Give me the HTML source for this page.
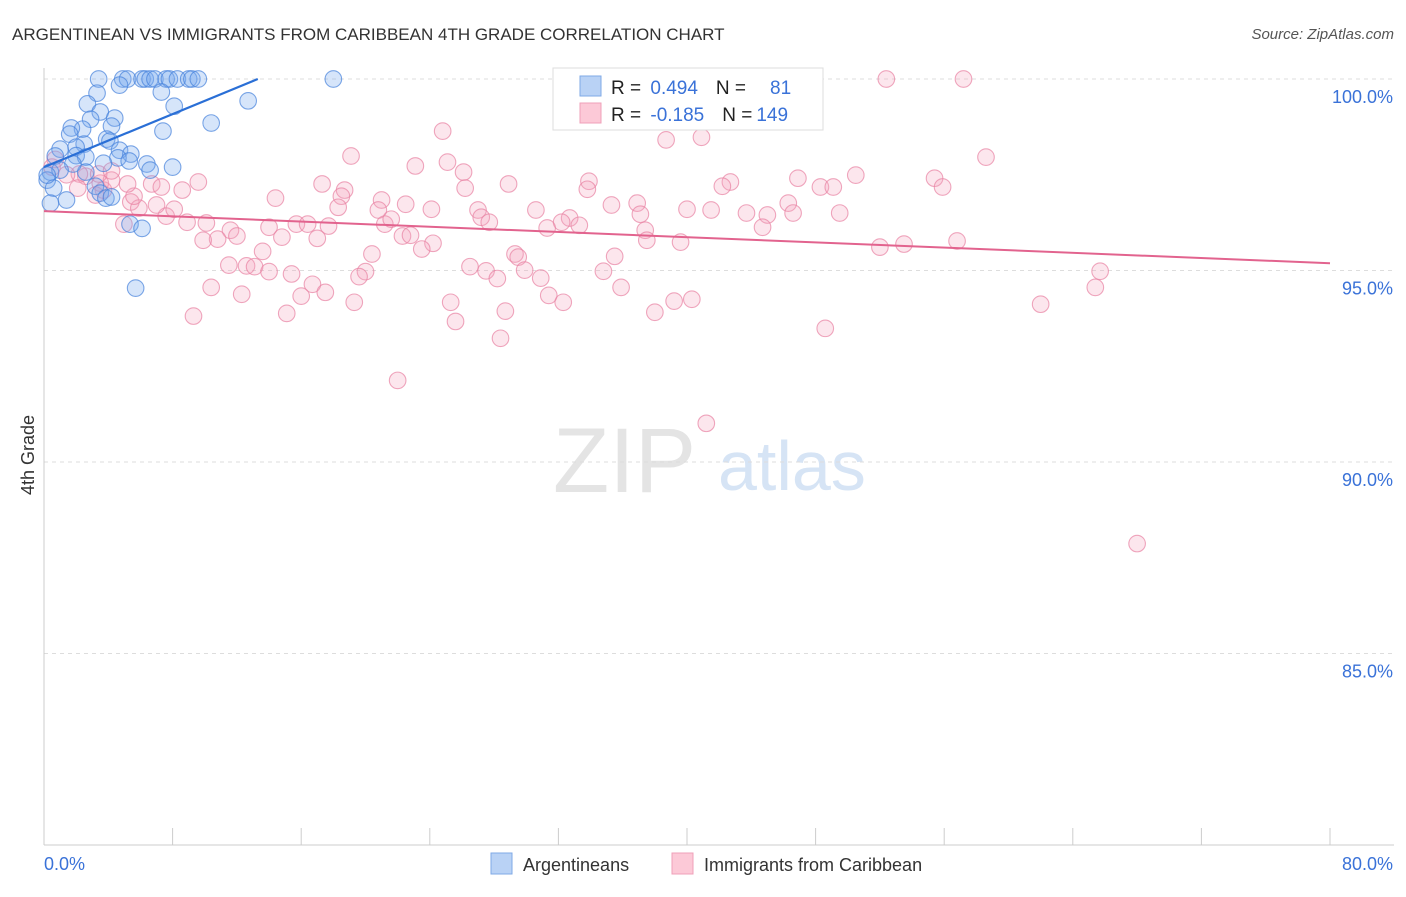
<!DOCTYPE html>
<html><head><meta charset="utf-8"><style>
body{margin:0;background:#fff;font-family:"Liberation Sans",sans-serif;}
svg text{font-family:"Liberation Sans",sans-serif;}
</style></head><body>
<svg id="c" width="1406" height="892" xmlns="http://www.w3.org/2000/svg">
<text x="12" y="40" font-size="17" fill="#333">ARGENTINEAN VS IMMIGRANTS FROM CARIBBEAN 4TH GRADE CORRELATION CHART</text>
<text x="1394" y="39" font-size="15" fill="#555" text-anchor="end" font-style="italic">Source: ZipAtlas.com</text>
<g>
<text x="553" y="492" font-size="92" fill="#e4e4e4" font-family="Liberation Serif">ZIP</text>
<text x="718" y="490" font-size="70" fill="#d6e4f5">atlas</text>
</g>
<g id="grid"></g>
<g id="axes"></g>
<g id="pink"></g>
<g id="blue"></g>
<g id="lines"></g>
<text x="34" y="455" font-size="18" fill="#333" text-anchor="middle" transform="rotate(-90 34 455)">4th Grade</text>
<g>
<rect x="553" y="68" width="270" height="62" fill="#fff" stroke="#ddd"/>
<rect x="580" y="76" width="21" height="20" fill="#b9d2f5" stroke="#7fa9e6"/>
<rect x="580" y="103" width="21" height="20" fill="#fcc9d7" stroke="#efa0b8"/>
<text x="611" y="94" font-size="19" fill="#222">R = <tspan fill="#3a72d8" dx="4">0.494</tspan><tspan dx="18" fill="#222">N =</tspan><tspan dx="24" fill="#3a72d8">81</tspan></text>
<text x="611" y="121" font-size="19" fill="#222">R = <tspan fill="#3a72d8" dx="4">-0.185</tspan><tspan dx="18" fill="#222">N =</tspan><tspan dx="4" fill="#3a72d8">149</tspan></text>
</g>
<g>
<rect x="491" y="853" width="21" height="21" fill="#b9d2f5" stroke="#7fa9e6"/>
<text x="523" y="871" font-size="18" fill="#333">Argentineans</text>
<rect x="672" y="853" width="21" height="21" fill="#fcc9d7" stroke="#efa0b8"/>
<text x="704" y="871" font-size="18" fill="#333">Immigrants from Caribbean</text>
</g>
</svg>
<script>
const yTicks=[100,95,90,85];
const yTickLabels=["100.0%","95.0%","90.0%","85.0%"];
const xTickVals=[0,8,16,24,32,40,48,56,64,72,80];
const xEndLabels=["0.0%","80.0%"];
const blueX=[3.4,4.9,5.2,6.1,6.3,6.6,6.9,7.6,7.8,8.3,9.0,9.2,9.6,18.0,4.7,3.3,7.3,12.7,8.1,2.7,3.5,2.9,4.4,10.4,4.2,7.4,2.4,1.7,1.6,3.9,4.1,2.5,1.0,2.0,4.7,0.7,5.4,2.0,2.6,4.6,3.7,5.3,6.4,8.0,6.6,2.6,0.4,0.2,0.6,3.2,3.5,3.85,4.2,1.4,0.4,5.35,6.1,5.7,1.8,1.0,0.2];
const blueY=[100,100,100,100,100,100,100,100,100,100,100,100,100,100,99.84,99.63,99.66,99.43,99.29,99.35,99.14,98.95,98.98,98.85,98.77,98.64,98.69,98.72,98.56,98.43,98.38,98.30,98.17,98.22,98.14,97.99,98.04,98.0,97.96,97.94,97.8,97.86,97.78,97.7,97.62,97.57,97.57,97.36,97.15,97.2,97.02,96.89,96.92,96.84,96.76,96.21,96.1,94.54,97.78,97.62,97.49];
const pinkX=[52.4,57.2,24.8,40.9,38.7,19.1,23.1,25.1,58.6,26.1,50.5,55.4,46.9,42.7,42.2,28.9,33.9,33.8,26.2,17.3,18.7,18.5,9.6,8.6,6.7,7.3,48.3,49.1,55.9,14.4,21.0,22.5,24.1,27.0,27.2,27.7,30.6,35.3,36.9,37.1,40.0,41.5,43.7,46.3,46.6,45.0,44.7,49.5,32.7,32.2,33.3,31.3,20.8,21.2,21.6,18.3,17.7,15.7,16.4,14.0,10.1,8.9,7.6,8.1,7.0,5.4,5.9,5.6,4.97,5.2,3.7,3.5,4.2,2.6,3.4,2.2,11.6,12.0,10.8,9.9,14.8,17.0,22.3,22.8,24.2,23.5,37.4,37.5,39.6,52.0,53.5,56.8,13.6,20.4,11.5,12.6,13.1,15.4,14.0,20.0,19.6,26.5,27.5,28.2,29.3,29.5,29.9,30.9,35.5,34.8,65.7,65.4,10.4,12.3,16.7,16.0,17.5,19.3,25.3,31.4,32.3,35.9,39.2,40.3,38.0,62.0,28.7,9.3,15.1,25.6,48.6,28.4,22.0,41.2,68.0,0.7,1.4,0.5,2.1,3.2,4.2];
const pinkY=[100,100,98.64,98.48,98.41,97.99,97.73,97.83,97.96,97.57,97.49,97.41,97.41,97.31,97.20,97.26,97.33,97.12,97.15,97.26,97.10,96.94,97.31,97.10,97.26,97.18,97.18,97.18,97.18,96.89,96.84,96.73,96.60,96.58,96.39,96.26,96.58,96.71,96.76,96.47,96.60,96.58,96.50,96.76,96.50,96.45,96.13,96.50,96.37,96.26,96.18,96.11,96.58,96.21,96.34,96.65,96.16,96.21,96.21,96.13,96.24,96.26,96.42,96.60,96.71,96.79,96.63,96.94,96.21,97.26,97.10,97.28,97.36,97.46,97.52,97.52,96.05,95.90,95.82,95.79,95.87,95.84,95.90,95.92,95.71,95.56,96.05,95.79,95.74,95.61,95.69,95.77,95.50,95.43,95.14,95.12,95.10,94.91,94.97,94.97,94.84,95.10,94.99,94.79,95.43,95.35,95.01,94.80,95.37,94.98,94.98,94.56,94.56,94.38,94.64,94.33,94.43,94.17,94.17,94.35,94.17,94.56,94.20,94.25,93.91,94.12,93.94,93.81,93.88,93.67,93.49,93.23,92.13,91.01,87.87,97.9,97.5,97.7,97.15,96.97,97.6];
const blueTrendX=[0,13.3];
const blueTrendY=[97.7,100];
const pinkTrendX=[0,80];
const pinkTrendY=[96.55,95.19];

const X0=44,X1=1330,Y100=79,Y80=845;
const sx=v=>X0+(v/80)*(X1-X0);
const sy=v=>Y100+(100-v)/20*(Y80-Y100);
const NS="http://www.w3.org/2000/svg";
function mk(tag,attrs,parent){const e=document.createElementNS(NS,tag);for(const k in attrs)e.setAttribute(k,attrs[k]);parent.appendChild(e);return e;}
const grid=document.getElementById('grid'),axes=document.getElementById('axes');
yTicks.forEach((t,i)=>{
 const l=mk('line',{x1:X0,x2:1394,y1:sy(t),y2:sy(t),stroke:'#ddd','stroke-dasharray':'4 4'},grid);
 
 
 const tx=mk('text',{x:1393,y:sy(t)+24,'font-size':18,fill:'#3a72d8','text-anchor':'end'},axes);
 tx.textContent=yTickLabels[i];
 
 
});
const ya=mk('line',{x1:X0,x2:X0,y1:68,y2:Y80,stroke:'#ccc'},axes);


const xa=mk('line',{x1:X0,x2:1394,y1:Y80,y2:Y80,stroke:'#ccc'},axes);


xTickVals.forEach(t=>{
 const l=mk('line',{x1:sx(t),x2:sx(t),y1:828,y2:Y80,stroke:'#ccc'},axes);
 
 
});
const xl0=mk('text',{x:44,y:870,'font-size':18,fill:'#3a72d8'},axes);xl0.textContent=xEndLabels[0];


const xl1=mk('text',{x:1393,y:870,'font-size':18,fill:'#3a72d8','text-anchor':'end'},axes);xl1.textContent=xEndLabels[1];


const pg=document.getElementById('pink');
pinkX.forEach((v,i)=>{
 const c=mk('circle',{cx:sx(v),cy:sy(pinkY[i]),r:8.3,fill:'rgba(245,165,190,0.28)',stroke:'rgba(232,130,162,0.7)','stroke-width':1.1},pg);
 
 
});
const bg=document.getElementById('blue');
blueX.forEach((v,i)=>{
 const c=mk('circle',{cx:sx(v),cy:sy(blueY[i]),r:8.3,fill:'rgba(120,168,238,0.3)',stroke:'rgba(70,130,220,0.7)','stroke-width':1.1},bg);
 
 
});
const lg=document.getElementById('lines');
const bl=mk('line',{x1:sx(blueTrendX[0]),y1:sy(blueTrendY[0]),x2:sx(blueTrendX[1]),y2:sy(blueTrendY[1]),stroke:'#2a6fd6','stroke-width':2.2},lg);


const pl=mk('line',{x1:sx(pinkTrendX[0]),y1:sy(pinkTrendY[0]),x2:sx(pinkTrendX[1]),y2:sy(pinkTrendY[1]),stroke:'#e2638e','stroke-width':2},lg);


</script>
</body></html>
